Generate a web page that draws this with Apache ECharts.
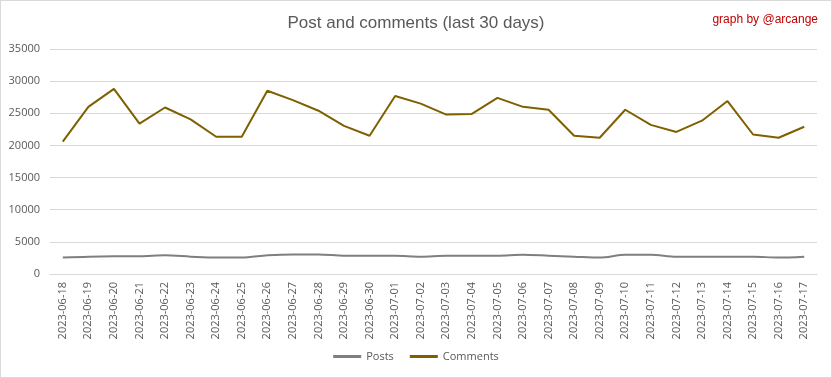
<!DOCTYPE html>
<html>
<head>
<meta charset="utf-8">
<script src="https://cdn.jsdelivr.net/npm/echarts@6/dist/echarts.min.js"></script>
<style>
  html, body { margin: 0; padding: 0; background: #fff; }
  #chart { width: 830px; height: 376px; border: 1px solid #d9d9d9; }
</style>
</head>
<body>
<div id="chart"></div>
<script>
var dates = ['2023-06-18', '2023-06-19', '2023-06-20', '2023-06-21', '2023-06-22', '2023-06-23', '2023-06-24', '2023-06-25',
  '2023-06-26', '2023-06-27', '2023-06-28', '2023-06-29', '2023-06-30', '2023-07-01', '2023-07-02', '2023-07-03',
  '2023-07-04', '2023-07-05', '2023-07-06', '2023-07-07', '2023-07-08', '2023-07-09', '2023-07-10', '2023-07-11',
  '2023-07-12', '2023-07-13', '2023-07-14', '2023-07-15', '2023-07-16', '2023-07-17'];

var posts = [2550, 2700, 2750, 2750, 2900, 2700, 2550, 2550, 2900, 3050, 3050, 2850, 2850, 2850, 2700,
  2850, 2850, 2850, 3000, 2850, 2700, 2550, 3000, 3000, 2700, 2700, 2700, 2700, 2550, 2700];

var comments = [20600, 26000, 28800, 23400, 25900, 24050, 21350, 21350, 28500, 27050, 25400, 23050, 21500, 27700, 26500,
  24800, 24900, 27400, 26000, 25550, 21500, 21200, 25550, 23200, 22100, 23850, 26900, 21700, 21200, 22900];

var chart = echarts.init(document.getElementById('chart'));
var font = '"Liberation Sans Narrow", "Liberation Sans", sans-serif';
var smallFont = '"Open Sans", sans-serif';

var option = {
  animation: false,
  textStyle: { fontFamily: font },
  title: [
    {
      text: 'Post and comments (last 30 days)',
      left: 'center',
      top: 9,
      textStyle: { color: '#595959', fontSize: 17, fontWeight: 'normal', fontFamily: font }
    },
    {
      text: 'graph by @arcange',
      right: 8,
      top: 8,
      textStyle: { color: '#c00000', fontSize: 12, fontWeight: 'normal', fontFamily: font }
    }
  ],
  legend: {
    bottom: 10,
    left: 'center',
    itemWidth: 28,
    itemHeight: 3,
    itemGap: 16,
    icon: 'rect',
    textStyle: { color: '#595959', fontSize: 11, fontFamily: smallFont },
    data: ['Posts', 'Comments']
  },
  grid: { left: 49, right: 14, top: 48, bottom: 103 },
  xAxis: {
    type: 'category',
    data: dates,
    boundaryGap: true,
    axisLine: { show: true, lineStyle: { color: '#d9d9d9' } },
    axisTick: { show: false },
    axisLabel: { rotate: 90, interval: 0, color: '#595959', fontSize: 11, margin: 8, fontFamily: smallFont }
  },
  yAxis: {
    type: 'value',
    min: 0,
    max: 35000,
    interval: 5000,
    axisLine: { show: false },
    axisTick: { show: false },
    splitLine: { lineStyle: { color: '#d9d9d9' } },
    axisLabel: {
      color: '#595959',
      fontSize: 11,
      margin: 10,
      fontFamily: smallFont,
      formatter: function (v) { return String(v); }
    }
  },
  series: [
    {
      name: 'Posts',
      type: 'line',
      data: posts,
      symbol: 'none',
      smooth: 0.3,
      itemStyle: { color: '#7f7f7f' },
      lineStyle: { color: '#7f7f7f', width: 2 }
    },
    {
      name: 'Comments',
      type: 'line',
      data: comments,
      symbol: 'none',
      itemStyle: { color: '#7f6000' },
      lineStyle: { color: '#7f6000', width: 2 }
    }
  ]
};

chart.setOption(option);
window.addEventListener('resize', function () {
  chart.resize();
});
</script>
</body>
</html>
